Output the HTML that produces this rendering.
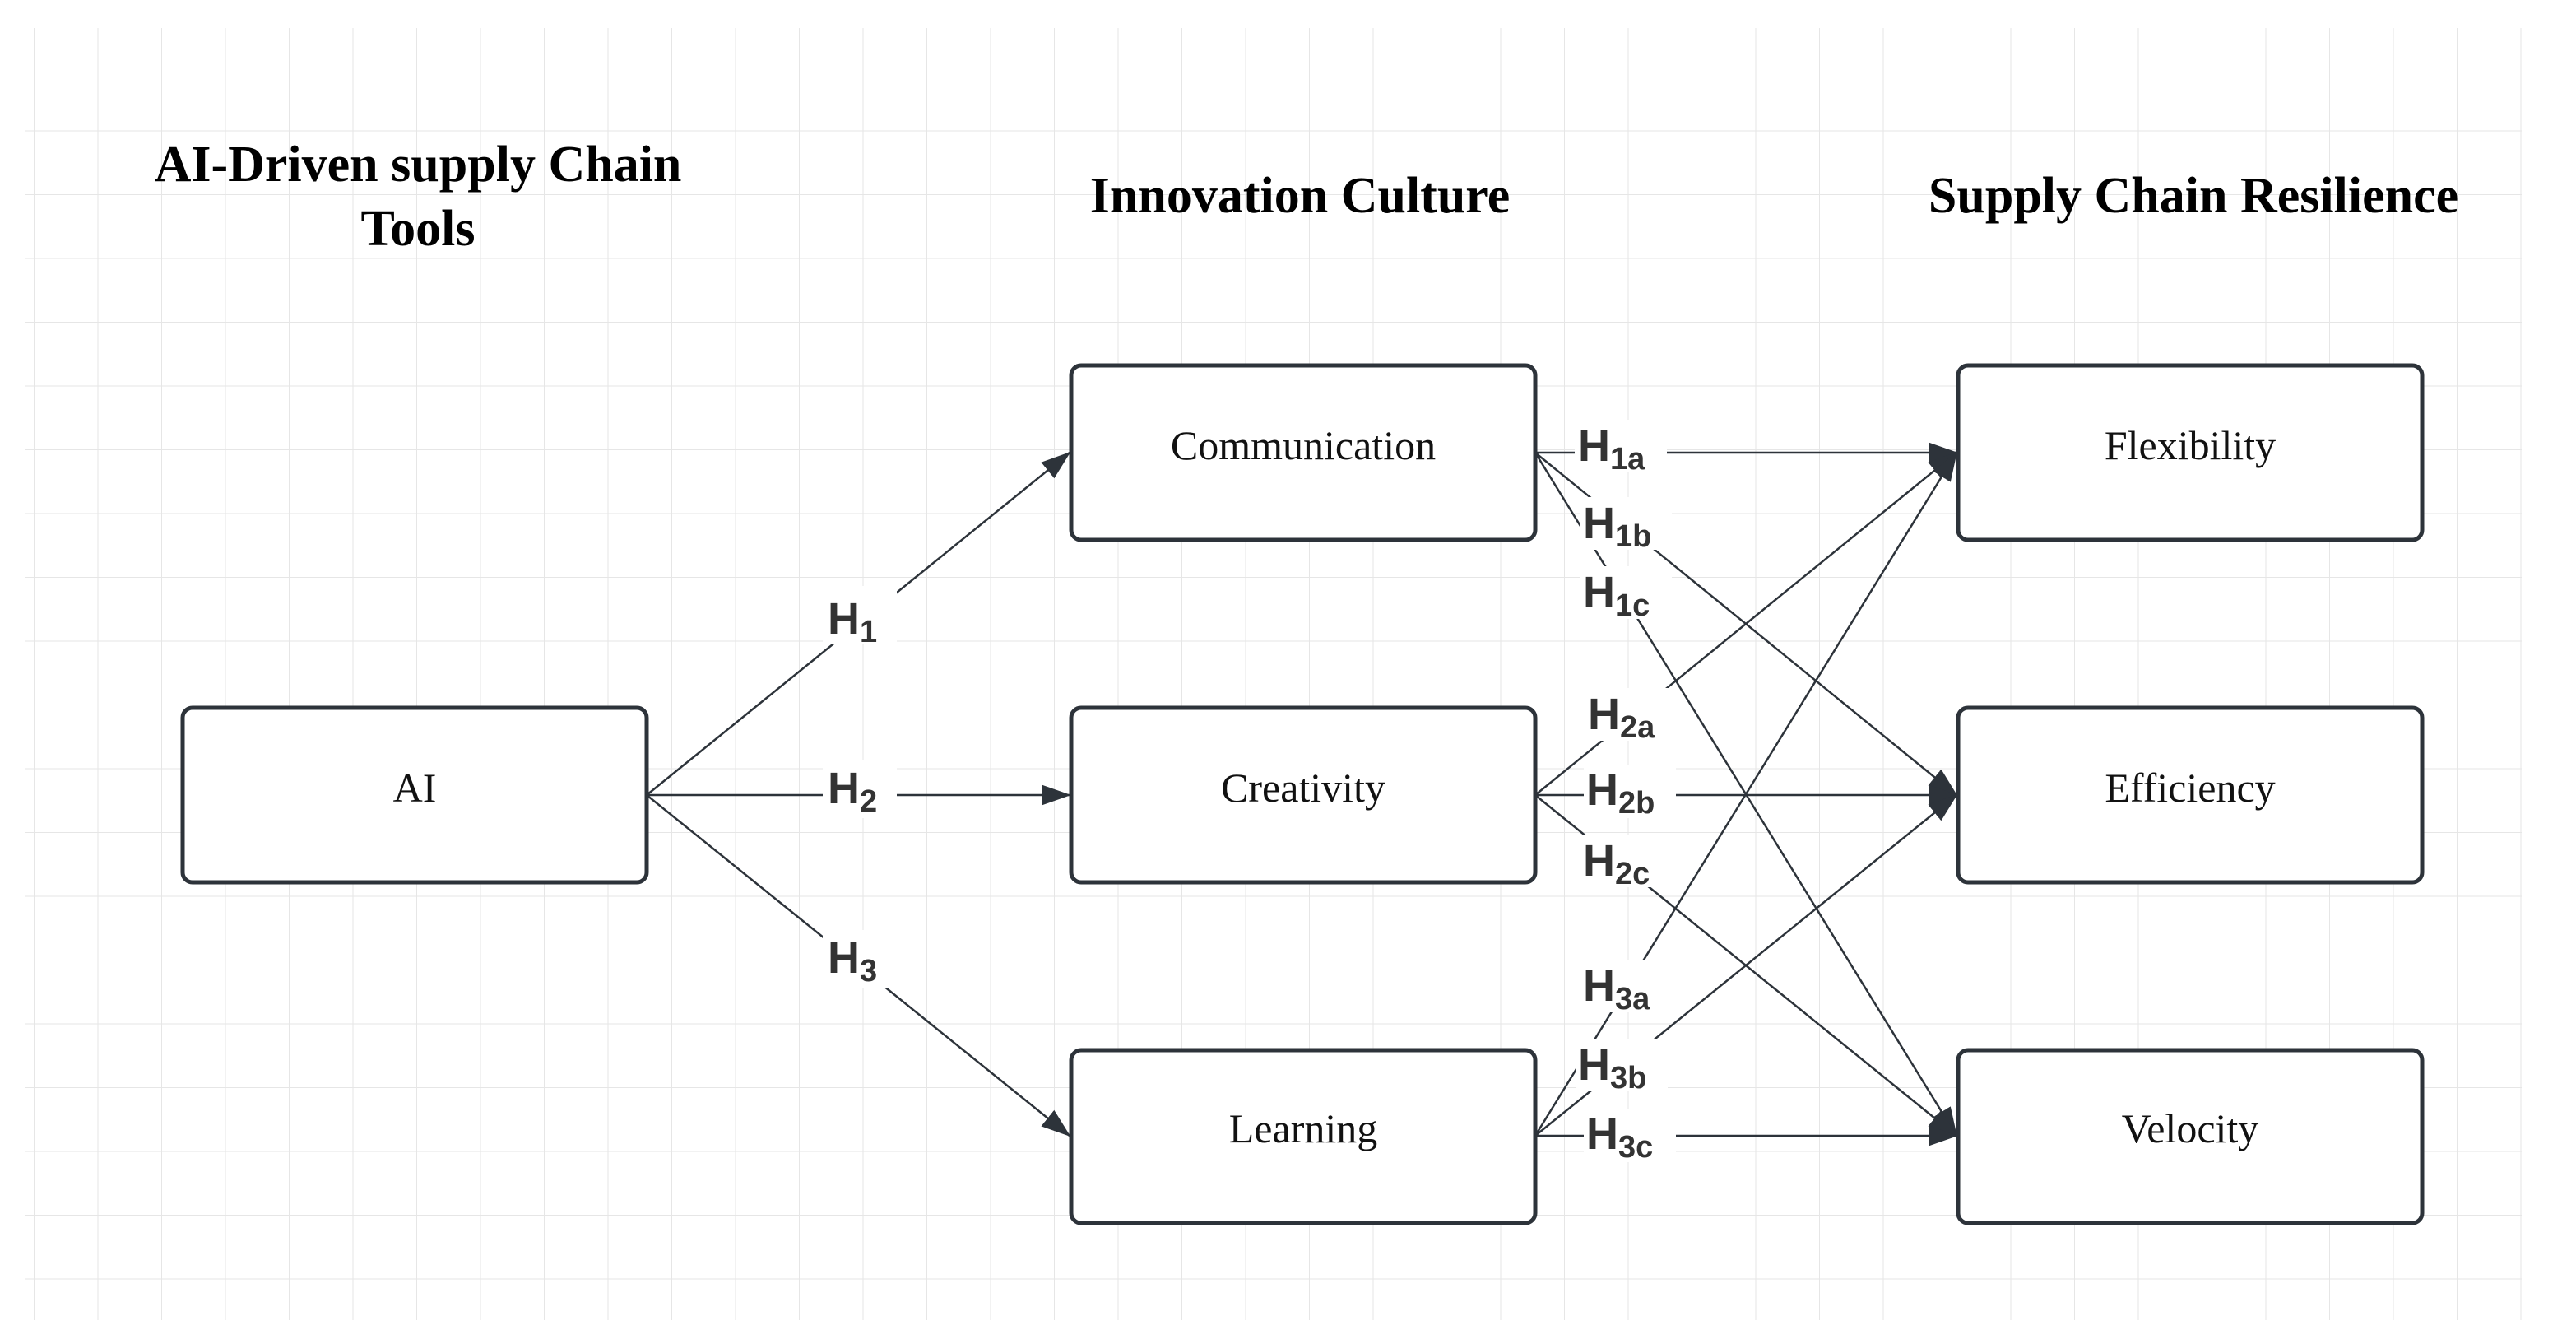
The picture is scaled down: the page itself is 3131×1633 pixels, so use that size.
<!DOCTYPE html>
<html><head><meta charset="utf-8"><style>
html,body{margin:0;padding:0;background:#fff;}
svg{display:block;}
.t{font-family:"Liberation Serif",serif;font-weight:bold;font-size:62px;fill:#000;text-anchor:middle;}
.b{font-family:"Liberation Serif",serif;font-size:50px;fill:#111;text-anchor:middle;}
.h{font-family:"Liberation Sans",sans-serif;font-weight:bold;font-size:54px;fill:#333;}
.s{font-size:38px;}
</style></head><body>
<svg width="3131" height="1633" viewBox="0 0 3131 1633" xmlns="http://www.w3.org/2000/svg">
<defs>
<pattern id="g" x="41" y="81" width="77.5" height="77.5" patternUnits="userSpaceOnUse">
<path d="M0 0V77.5M0 0H77.5" stroke="#e6e6e6" stroke-width="2" fill="none"/>
</pattern>
<marker id="a" markerWidth="10" markerHeight="10" refX="9" refY="5" orient="auto" markerUnits="userSpaceOnUse" viewBox="0 0 10 10">
<path d="M0 0L10 5L0 10z" fill="#2d333a"/>
</marker>
<marker id="A" viewBox="0 0 10 10" refX="9.5" refY="5" markerWidth="36" markerHeight="36" orient="auto" markerUnits="userSpaceOnUse">
<path d="M0 1.5L10 5L0 8.5z" fill="#2d333a"/>
</marker>
</defs>
<rect x="30" y="34" width="3035" height="1570" fill="url(#g)"/>
<text class="t" x="508" y="220">AI-Driven supply Chain</text>
<text class="t" x="508" y="298">Tools</text>
<text class="t" x="1580" y="258">Innovation Culture</text>
<text class="t" x="2666" y="258">Supply Chain Resilience</text>

<g stroke="#2d333a" stroke-width="2.5" fill="none" marker-end="url(#A)">
<line x1="786" y1="966" x2="1300" y2="550"/>
<line x1="786" y1="966" x2="1300" y2="966"/>
<line x1="786" y1="966" x2="1300" y2="1380"/>
<line x1="1866" y1="550" x2="2378" y2="550"/>
<line x1="1866" y1="550" x2="2378" y2="966"/>
<line x1="1866" y1="550" x2="2378" y2="1380"/>
<line x1="1866" y1="966" x2="2378" y2="550"/>
<line x1="1866" y1="966" x2="2378" y2="966"/>
<line x1="1866" y1="966" x2="2378" y2="1380"/>
<line x1="1866" y1="1380" x2="2378" y2="550"/>
<line x1="1866" y1="1380" x2="2378" y2="966"/>
<line x1="1866" y1="1380" x2="2378" y2="1380"/>
</g>

<g fill="#fff">
<rect x="1000" y="712" width="90" height="70"/>
<rect x="1000" y="924" width="90" height="70"/>
<rect x="1000" y="1130" width="90" height="70"/>
<rect x="1914" y="510" width="112" height="64"/>
<rect x="1920" y="604" width="112" height="64"/>
<rect x="1920" y="688" width="112" height="64"/>
<rect x="1925" y="836" width="112" height="64"/>
<rect x="1925" y="930" width="112" height="64"/>
<rect x="1920" y="1014" width="112" height="64"/>
<rect x="1920" y="1166" width="112" height="64"/>
<rect x="1915" y="1262" width="112" height="64"/>
<rect x="1925" y="1348" width="112" height="64"/>
</g>

<text class="h" x="1006" y="770">H<tspan class="s" dy="10">1</tspan></text>
<text class="h" x="1006" y="976">H<tspan class="s" dy="10">2</tspan></text>
<text class="h" x="1006" y="1182">H<tspan class="s" dy="10">3</tspan></text>
<text class="h" x="1918" y="560">H<tspan class="s" dy="10">1a</tspan></text>
<text class="h" x="1924" y="654">H<tspan class="s" dy="10">1b</tspan></text>
<text class="h" x="1924" y="738">H<tspan class="s" dy="10">1c</tspan></text>
<text class="h" x="1930" y="886">H<tspan class="s" dy="10">2a</tspan></text>
<text class="h" x="1928" y="978">H<tspan class="s" dy="10">2b</tspan></text>
<text class="h" x="1924" y="1064">H<tspan class="s" dy="10">2c</tspan></text>
<text class="h" x="1924" y="1216">H<tspan class="s" dy="10">3a</tspan></text>
<text class="h" x="1918" y="1312">H<tspan class="s" dy="10">3b</tspan></text>
<text class="h" x="1928" y="1396">H<tspan class="s" dy="10">3c</tspan></text>

<g fill="#fff" stroke="#2d333a" stroke-width="5">
<rect x="222" y="860" width="564" height="212" rx="12"/>
<rect x="1302" y="444" width="564" height="212" rx="12"/>
<rect x="1302" y="860" width="564" height="212" rx="12"/>
<rect x="1302" y="1276" width="564" height="210" rx="12"/>
<rect x="2380" y="444" width="564" height="212" rx="12"/>
<rect x="2380" y="860" width="564" height="212" rx="12"/>
<rect x="2380" y="1276" width="564" height="210" rx="12"/>
</g>
<text class="b" x="504" y="974">AI</text>
<text class="b" x="1584" y="558">Communication</text>
<text class="b" x="1584" y="974">Creativity</text>
<text class="b" x="1584" y="1388">Learning</text>
<text class="b" x="2662" y="558">Flexibility</text>
<text class="b" x="2662" y="974">Efficiency</text>
<text class="b" x="2662" y="1388">Velocity</text>
</svg>
</body></html>
